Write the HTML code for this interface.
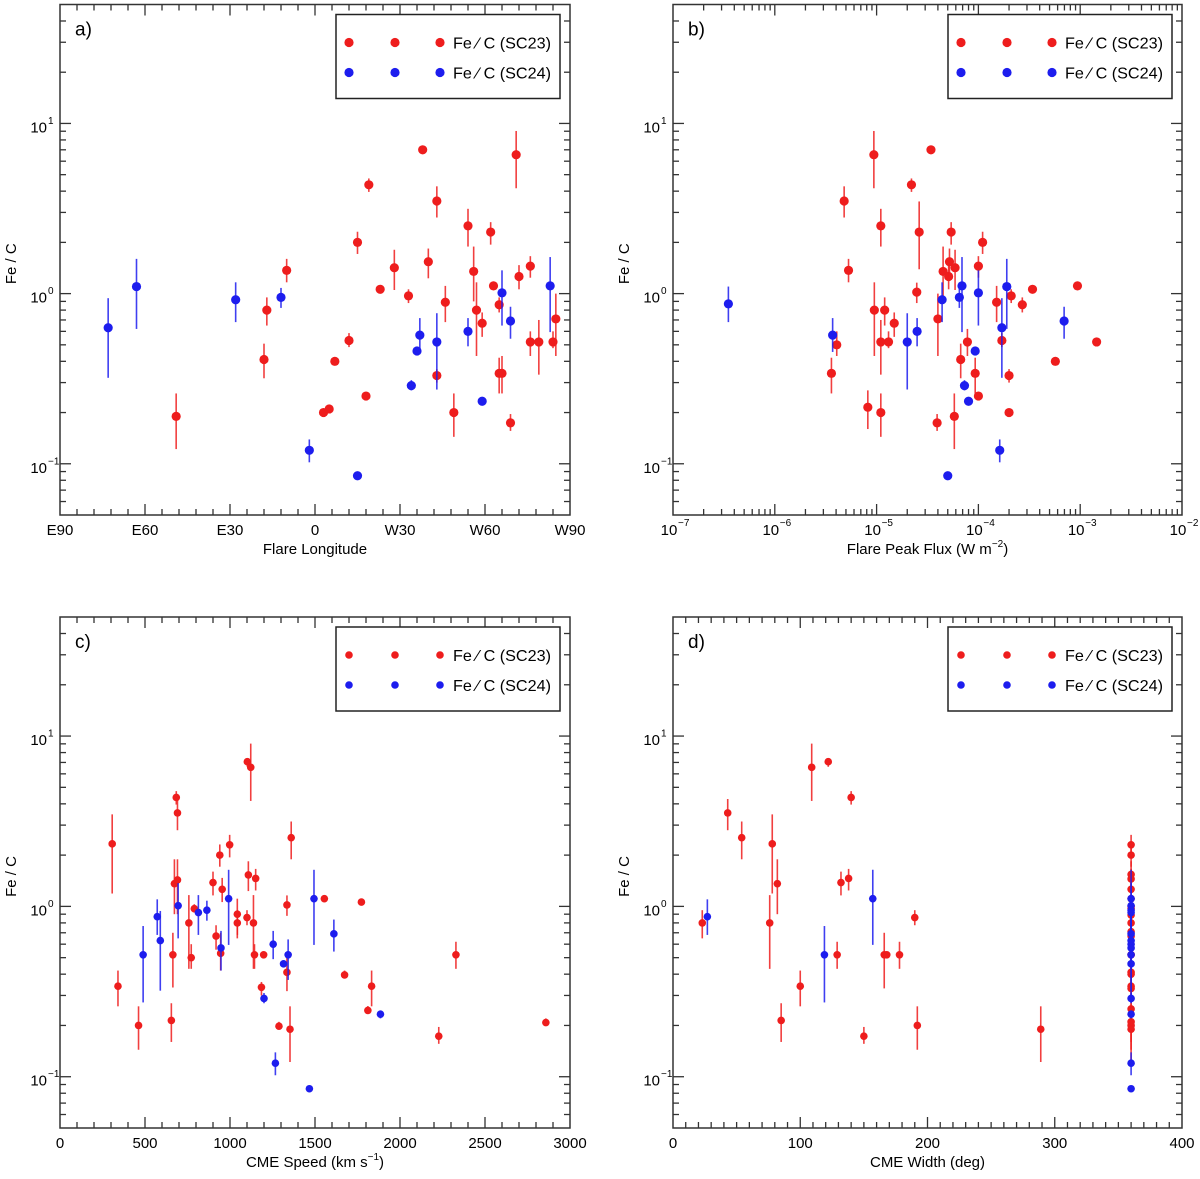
<!DOCTYPE html>
<html><head><meta charset="utf-8"><style>
html,body{margin:0;padding:0;background:#fff}
svg{display:block}
text{font-family:"Liberation Sans","DejaVu Sans",sans-serif;fill:#000}
</style></head><body>
<svg id="chart" width="1200" height="1179" viewBox="0 0 1200 1179" xmlns="http://www.w3.org/2000/svg"></svg>
<script>
// ---- Panel a: Flare longitude (deg, negative = East) ----
const aRedX = [-49,-18,-17,-10,3,5,7,12,15,18,19,23,28,33,38,40,43,43,46,49,54,56,57,59,62,63,65,65,66,69,71,72,76,76,79,84,85];
const aRedY = [0.19,0.41,0.80,1.37,0.20,0.21,0.40,0.53,2.0,0.25,4.36,1.06,1.42,0.97,7.0,1.54,3.5,0.33,0.89,0.20,2.5,1.35,0.80,0.67,2.3,1.11,0.86,0.34,0.34,0.174,6.55,1.26,1.45,0.52,0.52,0.52,0.71];
const aRedLo = [0.122,0.318,0.649,1.165,0.19,0.20,0.38,0.485,1.71,0.24,3.96,1.02,1.05,0.88,6.6,1.23,2.8,0.30,0.68,0.144,1.89,0.90,0.43,0.557,1.94,1.07,0.775,0.259,0.259,0.156,4.16,1.06,1.24,0.43,0.334,0.478,0.43];
const aRedHi = [0.259,0.508,0.95,1.6,0.21,0.22,0.42,0.586,2.31,0.26,4.75,1.10,1.81,1.06,7.4,1.84,4.27,0.36,1.11,0.259,3.15,1.89,1.165,0.775,2.63,1.15,0.95,0.42,0.43,0.196,9.03,1.47,1.66,0.60,0.70,0.60,1.0];
const aBlueX = [-73,-63,-28,-12,-2,15,34,36,37,43,54,59,66,69,83];
const aBlueY = [0.63,1.10,0.92,0.95,0.12,0.085,0.288,0.46,0.57,0.52,0.60,0.233,1.01,0.69,1.11];
const aBlueLo = [0.32,0.62,0.68,0.824,0.102,0.085,0.27,0.44,0.454,0.273,0.49,0.22,0.649,0.543,0.594];
const aBlueHi = [0.94,1.6,1.165,1.08,0.139,0.085,0.31,0.48,0.718,0.767,0.718,0.245,1.37,0.837,1.64];
const aXTicks = [-90,-60,-30,0,30,60,90];
const aXTickLabels = ["E90","E60","E30","0","W30","W60","W90"];

// ---- Panel b: Flare peak flux ----
const bRedX = [3.6e-6,4.06e-6,4.8e-6,5.3e-6,8.2e-6,9.4e-6,9.5e-6,1.1e-5,1.1e-5,1.1e-5,1.2e-5,1.31e-5,1.49e-5,2.2e-5,2.48e-5,2.62e-5,3.42e-5,3.93e-5,4.0e-5,4.5e-5,5.1e-5,5.2e-5,5.4e-5,5.8e-5,5.9e-5,6.7e-5,7.8e-5,9.3e-5,1.0e-4,1.0e-4,1.1e-4,1.51e-4,1.7e-4,2.0e-4,2.0e-4,2.1e-4,2.7e-4,3.4e-4,5.7e-4,9.4e-4,1.45e-3];
const bRedY = [0.34,0.50,3.5,1.37,0.215,6.55,0.80,2.5,0.52,0.20,0.80,0.52,0.67,4.36,1.02,2.3,7.0,0.174,0.71,1.35,1.26,1.54,2.3,0.19,1.42,0.41,0.52,0.34,1.45,0.25,2.0,0.89,0.53,0.33,0.20,0.97,0.86,1.06,0.40,1.11,0.52];
const bRedLo = [0.259,0.43,2.8,1.165,0.16,4.16,0.43,1.89,0.334,0.144,0.649,0.478,0.557,3.96,0.88,1.39,6.6,0.156,0.43,0.90,1.06,1.23,1.94,0.122,1.05,0.318,0.43,0.259,1.24,0.24,1.71,0.68,0.485,0.30,0.19,0.88,0.775,1.02,0.38,1.07,0.50];
const bRedHi = [0.42,0.60,4.27,1.6,0.27,9.03,1.165,3.15,0.70,0.259,0.95,0.60,0.775,4.75,1.16,3.48,7.4,0.196,1.0,1.89,1.47,1.84,2.63,0.259,1.81,0.508,0.62,0.42,1.66,0.26,2.31,1.11,0.586,0.36,0.21,1.06,0.95,1.10,0.42,1.15,0.54];
const bBlueX = [3.5e-7,3.7e-6,2.0e-5,2.5e-5,4.4e-5,6.5e-5,6.9e-5,7.3e-5,8.0e-5,9.3e-5,1.0e-4,5.0e-5,1.62e-4,1.7e-4,1.9e-4,6.95e-4];
const bBlueY = [0.87,0.57,0.52,0.60,0.92,0.95,1.11,0.288,0.233,0.46,1.01,0.085,0.12,0.63,1.10,0.69];
const bBlueLo = [0.68,0.454,0.273,0.49,0.68,0.824,0.594,0.27,0.22,0.44,0.649,0.085,0.102,0.32,0.62,0.543];
const bBlueHi = [1.1,0.718,0.767,0.718,1.165,1.08,1.64,0.31,0.245,0.48,1.37,0.085,0.139,0.94,1.6,0.837];
const bXTicks = [1e-7,1e-6,1e-5,1e-4,1e-3,1e-2];
const bXTickExp = ["-7","-6","-5","-4","-3","-2"];

// ---- Panel c: CME speed ----
const cRedX = [307,341,462,655,664,673,684,691,691,758,772,790,900,918,940,945,954,998,1043,1043,1100,1102,1108,1122,1138,1144,1151,1185,1198,1288,1335,1335,1353,1360,1555,1674,1773,1811,1833,2228,2329,2858];
const cRedY = [2.33,0.34,0.20,0.214,0.52,1.36,4.36,3.54,1.43,0.80,0.50,0.97,1.38,0.67,2.0,0.53,1.26,2.3,0.90,0.80,0.86,7.07,1.53,6.55,0.80,0.52,1.46,0.335,0.52,0.198,1.02,0.41,0.19,2.53,1.11,0.396,1.06,0.245,0.34,0.173,0.52,0.208];
const cRedLo = [1.19,0.259,0.144,0.16,0.334,0.90,3.96,2.8,0.90,0.43,0.43,0.92,1.16,0.557,1.71,0.42,1.06,1.94,0.68,0.649,0.775,6.6,1.23,4.16,0.43,0.43,1.24,0.30,0.50,0.19,0.88,0.318,0.122,1.89,1.07,0.38,1.02,0.24,0.259,0.156,0.43,0.20];
const cRedHi = [3.47,0.42,0.259,0.27,0.70,1.89,4.75,4.27,1.89,1.165,0.60,1.03,1.6,0.775,2.31,0.70,1.47,2.63,1.11,0.95,0.95,7.4,1.84,9.03,1.165,0.60,1.66,0.36,0.54,0.21,1.16,0.508,0.259,3.15,1.15,0.42,1.10,0.26,0.42,0.196,0.62,0.22];
const cBlueX = [489,572,590,695,814,864,947,992,1200,1254,1267,1315,1342,1467,1494,1611,1885];
const cBlueY = [0.52,0.87,0.63,1.01,0.92,0.95,0.57,1.11,0.288,0.60,0.12,0.46,0.52,0.085,1.11,0.69,0.233];
const cBlueLo = [0.273,0.68,0.32,0.649,0.68,0.824,0.42,0.594,0.27,0.49,0.102,0.44,0.37,0.085,0.594,0.543,0.22];
const cBlueHi = [0.767,1.1,0.94,1.37,1.165,1.08,0.718,1.64,0.31,0.718,0.139,0.48,0.64,0.085,1.64,0.837,0.245];
const cXTicks = [0,500,1000,1500,2000,2500,3000];

// ---- Panel d: CME width ----
const dRedX = [23,43,54,76,78,82,85,100,109,122,129,132,138,140,150,166,168,178,190,192,289,360,360,360,360,360,360,360,360,360,360,360,360,360,360,360,360,360,360,360,360,360,360];
const dRedY = [0.80,3.54,2.53,0.80,2.33,1.36,0.214,0.34,6.55,7.07,0.52,1.38,1.46,4.36,0.173,0.52,0.52,0.52,0.86,0.20,0.19,2.3,2.0,1.54,1.45,1.26,1.11,1.0,0.97,0.89,0.80,0.71,0.67,0.52,0.52,0.41,0.40,0.34,0.33,0.25,0.21,0.20,0.19];
const dRedLo = [0.649,2.8,1.89,0.43,1.19,0.90,0.16,0.259,4.16,6.6,0.43,1.16,1.24,3.96,0.156,0.33,0.50,0.43,0.775,0.144,0.122,1.94,1.71,1.23,1.24,1.06,1.07,0.88,0.88,0.68,0.43,0.43,0.557,0.43,0.334,0.318,0.38,0.259,0.30,0.24,0.16,0.144,0.122];
const dRedHi = [0.95,4.27,3.15,1.165,3.47,1.89,0.27,0.42,9.03,7.4,0.62,1.6,1.66,4.75,0.196,0.70,0.54,0.62,0.95,0.259,0.259,2.63,2.31,1.84,1.66,1.47,1.15,1.16,1.06,1.11,1.165,1.0,0.775,0.60,0.70,0.508,0.42,0.42,0.36,0.26,0.27,0.259,0.259];
const dBlueX = [27,119,157,360,360,360,360,360,360,360,360,360,360,360,360,360,360];
const dBlueY = [0.87,0.52,1.11,1.11,1.01,0.95,0.92,0.69,0.63,0.60,0.57,0.52,0.46,0.288,0.233,0.12,0.085];
const dBlueLo = [0.68,0.273,0.594,0.594,0.649,0.824,0.68,0.543,0.32,0.49,0.454,0.273,0.44,0.27,0.22,0.102,0.085];
const dBlueHi = [1.1,0.767,1.64,1.64,1.37,1.08,1.165,0.837,0.94,0.718,0.718,0.767,0.48,0.31,0.245,0.139,0.085];
const dXTicks = [0,100,200,300,400];

const yMin = 0.05, yMax = 50;
const RED = "#ee1d1d", BLUE = "#1d1dee";
const NS = "http://www.w3.org/2000/svg";
const svg = document.getElementById("chart");

function mk(tag, attrs, parent) {
  const e = document.createElementNS(NS, tag);
  for (const k in attrs) e.setAttribute(k, attrs[k]);
  (parent || svg).appendChild(e);
  return e;
}

function drawPanel(P) {
  const g = mk("g", {});
  
  
  const {x0, x1, y0, y1} = P;
  const yScale = v => y1 - (Math.log10(v) - Math.log10(yMin)) / (Math.log10(yMax) - Math.log10(yMin)) * (y1 - y0);
  const xScale = P.xlog
    ? v => x0 + (Math.log10(v) - Math.log10(P.xmin)) / (Math.log10(P.xmax) - Math.log10(P.xmin)) * (x1 - x0)
    : v => x0 + (v - P.xmin) / (P.xmax - P.xmin) * (x1 - x0);

  // frame
  const frame = mk("rect", {x: x0, y: y0, width: x1 - x0, height: y1 - y0, fill: "none", stroke: "#333", "stroke-width": 1.5}, g);
  
  

  // y ticks (log)
  const yt = mk("g", {stroke: "#333", "stroke-width": 1.3}, g);
  
  
  for (let e = -2; e <= 1; e++) {
    for (let m = 1; m <= 9; m++) {
      const v = m * Math.pow(10, e);
      if (v <= yMin * 1.001 || v >= yMax * 0.999) continue;
      const y = yScale(v), L = m === 1 ? 11 : 6;
      mk("line", {x1: x0, x2: x0 + L, y1: y, y2: y}, yt);
      mk("line", {x1: x1, x2: x1 - L, y1: y, y2: y}, yt);
    }
  }
  const yExps = ["1", "0", "\u22121"];
  [10, 1, 0.1].forEach((v, i) => {
    const t = mk("text", {x: x0 - 13, y: yScale(v) + 9, "font-size": 15, "text-anchor": "end"}, g);
    
    
    t.textContent = "10";
    const s = mk("text", {x: x0 - 12, y: yScale(v) + 0.5, "font-size": 10, "text-anchor": "start"}, g);
    
    
    s.textContent = yExps[i];
  });
  const yt2 = mk("text", {x: 0, y: 0, "font-size": 15, "text-anchor": "middle", transform: `translate(${x0 - 44},${(y0 + y1) / 2 + 4}) rotate(-90)`}, g);
  
  
  yt2.textContent = "Fe / C";

  // x ticks
  const xt = mk("g", {stroke: "#333", "stroke-width": 1.3}, g);
  
  
  const addX = (x, L) => {
    mk("line", {x1: x, x2: x, y1: y1, y2: y1 - L}, xt);
    mk("line", {x1: x, x2: x, y1: y0, y2: y0 + L}, xt);
  };
  if (P.xlog) {
    for (let e = -7; e <= -3; e++) for (let m = 1; m <= 9; m++) {
      const v = m * Math.pow(10, e);
      if (m === 1 && e === -7) continue;
      addX(xScale(v), m === 1 ? 11 : 6);
    }
  } else {
    for (let v = P.xmin + P.minor; v < P.xmax - 1e-6; v += P.minor) {
      const isMaj = Math.abs(((v - P.xmin) / P.major) - Math.round((v - P.xmin) / P.major)) < 1e-6;
      addX(xScale(v), isMaj ? 11 : 6);
    }
  }
  P.xTicks.forEach((v, i) => {
    const x = xScale(v);
    const t = mk("text", {x: x, y: y1 + 20, "font-size": 15, "text-anchor": "middle"}, g);
    
    
    if (P.xExp) {
      t.setAttribute("x", x - 4);
      t.textContent = "10";
      const s = mk("text", {x: x + 5, y: y1 + 11, "font-size": 10}, g);
      
      
      s.textContent = P.xExp[i].replace("-", "\u2212");
    } else {
      t.textContent = P.xLabels ? P.xLabels[i] : String(v);
    }
  });
  const xtt = mk("text", {x: (x0 + x1) / 2, y: y1 + 39, "font-size": 15, "text-anchor": "middle"}, g);
  
  
  xtt.innerHTML = P.xTitle;

  // panel letter
  const pl = mk("text", {x: x0 + 15, y: y0 + 31, "font-size": 19}, g);
  
  
  pl.textContent = P.id + ")";

  // series
  const r = P.r;
  const series = (X, Y, LO, HI, color, name) => {
    const sg = mk("g", {}, g);
    
    
    for (let i = 0; i < X.length; i++) {
      const cx = xScale(X[i]);
      if (HI[i] > LO[i]) {
        const eb = mk("line", {x1: cx, x2: cx, y1: yScale(LO[i]), y2: yScale(HI[i]), stroke: color, "stroke-width": 1.6, "stroke-opacity": 0.85}, sg);
        
        
      }
      const c = mk("circle", {cx: cx, cy: yScale(Y[i]), r: r, fill: color}, sg);
      
      
    }
  };
  series(P.rx, P.ry, P.rlo, P.rhi, RED, 'series-sc23');
  series(P.bx, P.by, P.blo, P.bhi, BLUE, 'series-sc24');

  // legend
  const lg = mk("g", {}, g);
  
  
  const lx = x1 - 234, ly = y0 + 10;
  mk("rect", {x: lx, y: ly, width: 224, height: 84, fill: "#fff", stroke: "#222", "stroke-width": 1.5}, lg);
  [["Fe \u2044 C (SC23)", RED, 28], ["Fe \u2044 C (SC24)", BLUE, 58]].forEach(([lab, col, dy]) => {
    const e = mk("g", {}, lg);
    
    
    [13, 59, 104].forEach(dx => mk("circle", {cx: lx + dx, cy: ly + dy, r: P.r, fill: col}, e));
    const t = mk("text", {x: lx + 117, y: ly + dy + 6, "font-size": 16, textLength: 98, lengthAdjust: "spacingAndGlyphs"}, e);
    t.textContent = lab;
  });
}

drawPanel({id: "a", x0: 60, x1: 570, y0: 4.5, y1: 515, xmin: -90, xmax: 90, minor: 6, major: 30,
  xTicks: aXTicks, xLabels: aXTickLabels, xTitle: "Flare Longitude", r: 4.6,
  rx: aRedX, ry: aRedY, rlo: aRedLo, rhi: aRedHi, bx: aBlueX, by: aBlueY, blo: aBlueLo, bhi: aBlueHi});
drawPanel({id: "b", x0: 673, x1: 1182, y0: 4.5, y1: 515, xlog: true, xmin: 1e-7, xmax: 1e-2,
  xTicks: bXTicks, xExp: bXTickExp, xTitle: 'Flare Peak Flux (W m<tspan dy="-7" font-size="10">\u22122</tspan><tspan dy="7">)</tspan>', r: 4.6,
  rx: bRedX, ry: bRedY, rlo: bRedLo, rhi: bRedHi, bx: bBlueX, by: bBlueY, blo: bBlueLo, bhi: bBlueHi});
drawPanel({id: "c", x0: 60, x1: 570, y0: 617, y1: 1128, xmin: 0, xmax: 3000, minor: 100, major: 500,
  xTicks: cXTicks, xTitle: 'CME Speed (km s<tspan dy="-7" font-size="10">\u22121</tspan><tspan dy="7">)</tspan>', r: 3.8,
  rx: cRedX, ry: cRedY, rlo: cRedLo, rhi: cRedHi, bx: cBlueX, by: cBlueY, blo: cBlueLo, bhi: cBlueHi});
drawPanel({id: "d", x0: 673, x1: 1182, y0: 617, y1: 1128, xmin: 0, xmax: 400, minor: 10, major: 100,
  xTicks: dXTicks, xTitle: "CME Width (deg)", r: 3.8,
  rx: dRedX, ry: dRedY, rlo: dRedLo, rhi: dRedHi, bx: dBlueX, by: dBlueY, blo: dBlueLo, bhi: dBlueHi});
</script>
</body></html>
